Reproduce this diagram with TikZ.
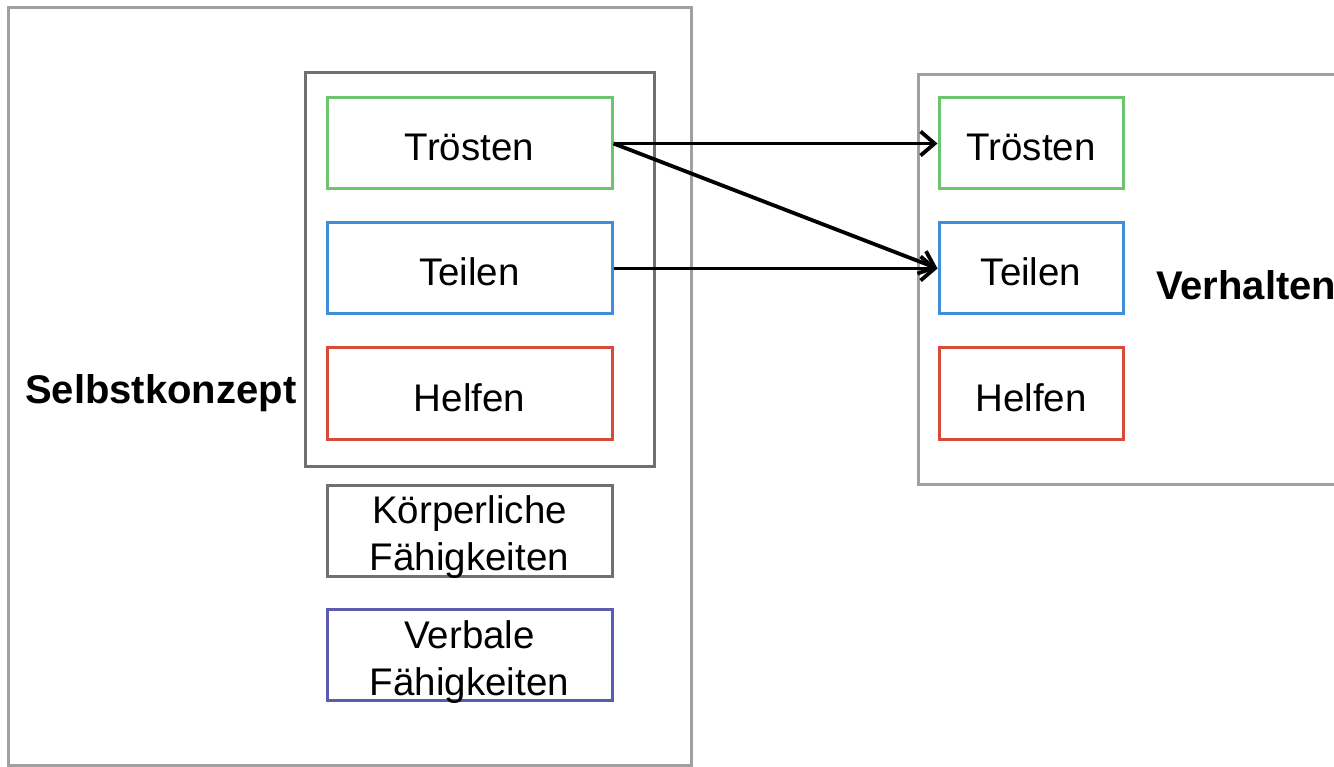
\documentclass[tikz,border=0pt]{standalone}
\usepackage{fontspec}
\setmainfont{Liberation Sans}
\usetikzlibrary{arrows.meta}
\definecolor{cgreen}{HTML}{6CC46C}
\definecolor{cblue}{HTML}{3F8FD8}
\definecolor{cred}{HTML}{D84A3A}
\definecolor{cpurple}{HTML}{5B5BB0}
\definecolor{cdark}{HTML}{707070}
\definecolor{clight}{HTML}{A0A0A0}
\begin{document}
\begin{tikzpicture}[x=1pt,y=-1pt,
  item/.style={draw, line width=3pt, minimum width=285pt, minimum height=91pt, inner sep=0pt,
    font=\fontsize{38.5}{47}\selectfont, align=center, text height=35pt, text depth=0pt},
  ritem/.style={item, minimum width=184pt},
  twoline/.style={font=\fontsize{38.5}{47}\selectfont, align=center, inner sep=0pt},
  frame/.style={draw=clight, line width=3pt, inner sep=0pt},
  conn/.style={line width=3.8pt, -{Straight Barb[length=14pt,width=24pt,line width=3.8pt]}},
  lbl/.style={font=\fontsize{40}{47}\selectfont\bfseries, inner sep=0pt}
]
\useasboundingbox (0,0) rectangle (1334,767);
\fill[white] (0,0) rectangle (1334,767);
% outer frames
\node[frame, minimum width=683pt, minimum height=757pt] (left) at (349.5,386.5) {};
\node[frame, minimum width=430pt, minimum height=410pt] (right) at (1133,279.5) {};
\node[draw=cdark, line width=3pt, minimum width=349pt, minimum height=393pt, inner sep=0pt] (grp) at (479.5,269.5) {};
% left items
\node[item, draw=cgreen] (lt) at (469.5,143.5) {Trösten};
\node[item, draw=cblue] (lte) at (469.5,268.5) {Teilen};
\node[item, draw=cred] (lh) at (469.5,393.5) {Helfen};
\node[item, draw=cdark] (kf) at (469.5,530.5) {};
\node[twoline] (kft) at (469.5,537) {Körperliche\\Fähigkeiten};
\node[item, draw=cpurple] (vf) at (469.5,655) {};
\node[twoline] (vft) at (469.5,662) {Verbale\\Fähigkeiten};
% right items
\node[ritem, draw=cgreen] (rt) at (1031,143.5) {Trösten};
\node[ritem, draw=cblue] (rte) at (1031,268.5) {Teilen};
\node[ritem, draw=cred] (rh) at (1031,393.5) {Helfen};
% labels
\node[lbl, anchor=west] (sk) at (25,393) {Selbstkonzept};
\node[lbl, anchor=west] (vh) at (1156,285) {Verhalten};
% connectors
\draw[conn] (lt.east) -- (rt.west);
\draw[conn] (lt.east) -- (rte.west);
\draw[conn] (lte.east) -- (rte.west);
\end{tikzpicture}
\end{document}
